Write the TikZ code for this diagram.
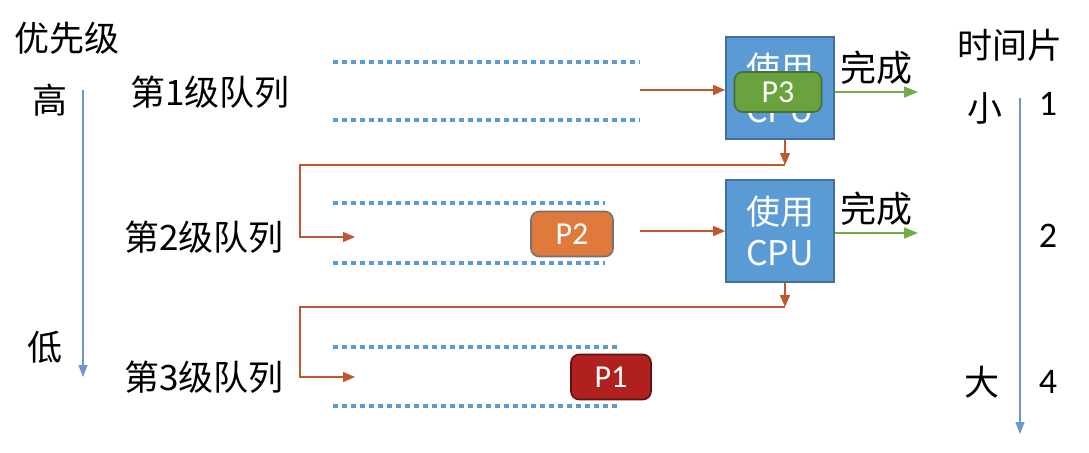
\documentclass[tikz,border=0pt]{standalone}
\usepackage{fontspec}
\setmainfont{Noto Sans CJK SC}
\newfontfamily\latinfont{Carlito}
\usetikzlibrary{positioning,arrows.meta}
\definecolor{cpublue}{HTML}{5B9BD5}
\definecolor{cpuedge}{HTML}{41719C}
\definecolor{flowc}{HTML}{C0582B}
\definecolor{donec}{HTML}{70AD47}
\definecolor{axisc}{HTML}{6C97C9}
\definecolor{ptgreen}{HTML}{6AA23E}
\definecolor{ptorange}{HTML}{E07A3C}
\definecolor{ptred}{HTML}{B0201F}
\tikzset{
	cpu/.style={draw=cpuedge,
			fill=cpublue,
			line width=0.8pt,
			minimum width=54pt,
			minimum height=51pt,
			text=white,
			align=center,
			font=\fontsize{17}{20.5}\selectfont
		},
	proc/.style={rounded corners=4pt,
			line width=0.8pt,
			text=white,
			font=\latinfont\fontsize{16}{18}\selectfont
		},
	flow/.style={flowc, line width=0.7pt, -{Triangle[length=6pt,width=5pt]}},
	done/.style={donec, line width=0.8pt, -{Triangle[length=7pt,width=5.5pt]}},
	axis/.style={axisc, line width=0.8pt, -{Triangle[length=6pt,width=4.5pt]}},
	qline/.style={cpublue, line width=2.4pt, dash pattern=on 2.3pt off 2.2pt},
	lbl/.style={font=\fontsize{17.5}{19}\selectfont}
}
\begin{document}
\begin{tikzpicture}[x=0.5pt,y=-0.5pt]
		\useasboundingbox (0,0) rectangle (1089,452);

		% Priority axis
		\node[lbl] (prio) at (67,38) {优先级};
		\node[lbl] (high) at (50,100) {高};
		\node[lbl] (low) at (45,347) {低};
		\coordinate (pa) at (83,90);
		\coordinate (pb) at (83,377);
		\draw[axis] (pa) -- (pb);

		% Queue labels
		\node[lbl] (lab1) at (210,92) {第1级队列};
		\node[lbl] (lab2) at (204,237) {第2级队列};
		\node[lbl] (lab3) at (204,377) {第3级队列};

		% Queues (dotted borders)
		\foreach \ytop/\ybot/\xend in {62/120/640, 203/263/605, 347/406/620}{
				\draw[qline] (333,\ytop) -- (\xend,\ytop);
				\draw[qline] (333,\ybot) -- (\xend,\ybot);
			}

		% CPUs
		\node[cpu] (cpu1) at (780,88) {使用\\CPU};
		\node[cpu] (cpu2) at (780,231) {使用\\CPU};

		% Processes
		\node[proc,
			fill=ptgreen,
			draw=ptgreen!70!black,
			minimum width=43.5pt,
			minimum height=20pt
		] (p3) at (778,92) {P3};
		\node[proc,
			fill=ptorange,
			draw=black!55,
			minimum width=41pt,
			minimum height=22.5pt
		] (p2) at (572,234) {P2};
		\node[proc,
			fill=ptred,
			draw=ptred!55!black,
			minimum width=40pt,
			minimum height=22.5pt
		] (p1) at (611,377) {P1};

		% Into the CPUs
		\coordinate (q1out) at (640,90);
		\coordinate (q2out) at (640,231);
		\draw[flow] (q1out) -- (q1out -| cpu1.west);
		\draw[flow] (q2out) -- (q2out -| cpu2.west);

		% Done
		\coordinate (d1) at (918,92);
		\coordinate (d2) at (918,233);
		\draw[done] (cpu1.east |- d1) -- (d1)
		node[midway,above=0pt,lbl,text=black,font=\fontsize{18}{20}\selectfont]{完成};
		\draw[done] (cpu2.east |- d2) -- (d2)
		node[midway,above=0pt,lbl,text=black,font=\fontsize{18}{20}\selectfont]{完成};

		% Demotion to lower queues
		\coordinate (dn1) at (785,165);
		\coordinate (in2) at (355,237);
		\draw[flow] (cpu1.south -| dn1) -- (dn1);
		\draw[flow] (dn1) -- (300,165) |- (in2);

		\coordinate (dn2) at (785,307);
		\coordinate (in3) at (355,377);
		\draw[flow] (cpu2.south -| dn2) -- (dn2);
		\draw[flow] (dn2) -- (300,307) |- (in3);

		% Time slice axis
		\node[lbl] (slice) at (1010,45) {时间片};
		\node[lbl] (small) at (985,108) {小};
		\node[lbl] (big) at (982,382) {大};
		\node[font=\latinfont\fontsize{18}{20}\selectfont] (t1) at (1048,104) {1};
		\node[font=\latinfont\fontsize{18}{20}\selectfont] (t2) at (1048,236) {2};
		\node[font=\latinfont\fontsize{18}{20}\selectfont] (t4) at (1048,382) {4};
		\coordinate (ta) at (1020,98);
		\coordinate (tb) at (1020,434);
		\draw[axis] (ta) -- (tb);
	\end{tikzpicture}
\end{document}
